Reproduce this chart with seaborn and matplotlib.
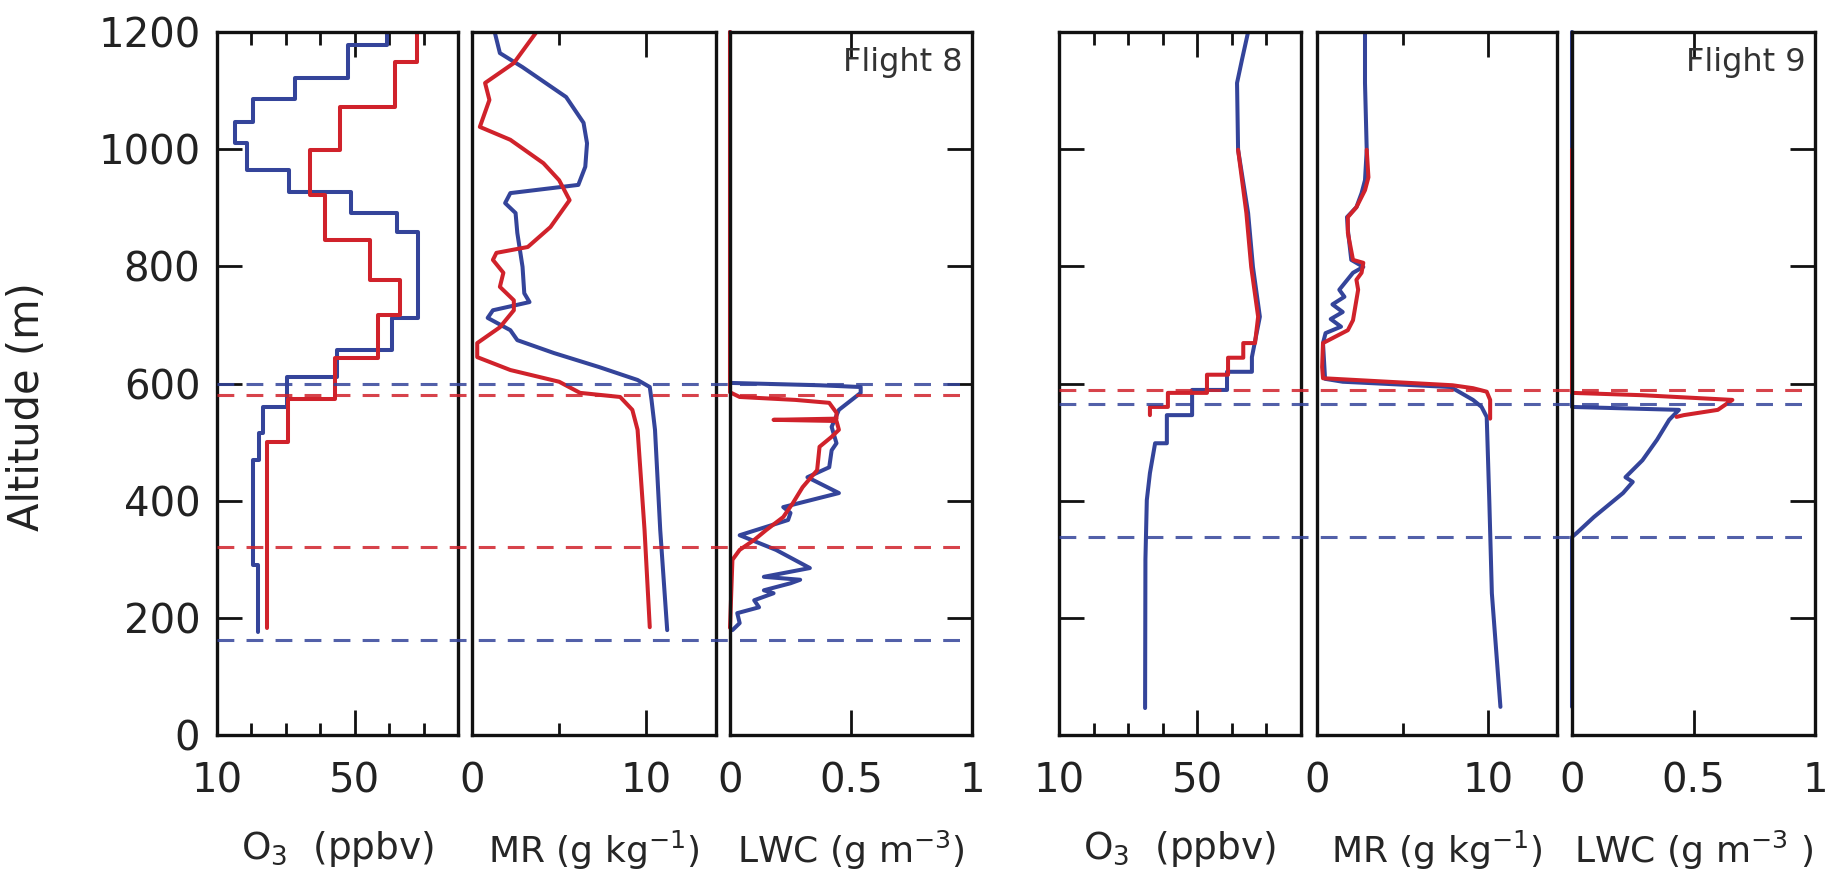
import numpy as np
import pandas as pd
import matplotlib.pyplot as plt
import seaborn as sns

BLUE = '#34449a'
RED = '#d0222b'

# ---------------- Flight 8 ----------------
# O3 (ppbv) step profiles: altitude bin edges (m) and values
f8_o3_blue_edges = [176, 290, 470, 515, 560, 611, 657, 712, 859, 891, 927, 964, 1010, 1046, 1085, 1121, 1178, 1200]
f8_o3_blue_vals = [21.8, 20.6, 22.3, 23.4, 30.3, 44.9, 60.8, 68.5, 62.3, 48.8, 30.9, 18.7, 15.2, 20.5, 32.7, 48.0, 59.4]
f8_o3_red_edges = [183, 500, 574, 644, 717, 777, 845, 922, 999, 1072, 1149, 1200]
f8_o3_red_vals = [24.5, 30.6, 44.3, 56.8, 63.2, 54.4, 41.4, 37.0, 45.7, 61.7, 68.1]

# MR (g/kg)
f8_mr_blue_alt = [179, 350, 521, 572, 594, 606, 628, 652, 674, 691, 712, 725, 739, 754, 799, 857, 891, 908, 925, 939, 970, 1010, 1045, 1089, 1140, 1164, 1200]
f8_mr_blue = [11.2, 10.8, 10.5, 10.3, 10.2, 9.5, 7.3, 4.7, 2.6, 2.2, 0.9, 1.2, 3.3, 3.0, 2.9, 2.6, 2.5, 1.9, 2.2, 6.1, 6.5, 6.6, 6.4, 5.4, 2.9, 1.6, 1.3]
f8_mr_red_alt = [184, 350, 521, 555, 577, 584, 603, 623, 645, 669, 696, 725, 742, 765, 789, 811, 823, 833, 867, 913, 947, 976, 1016, 1038, 1084, 1113, 1147, 1200]
f8_mr_red = [10.2, 9.9, 9.5, 9.2, 8.5, 6.2, 5.0, 2.2, 0.3, 0.3, 1.6, 2.4, 2.4, 1.6, 1.8, 1.2, 1.4, 3.2, 4.5, 5.6, 5.0, 4.1, 2.2, 0.45, 1.0, 0.75, 2.4, 3.7]

# LWC (g/m3)
f8_lwc_blue_alt = [179, 191, 208, 218, 230, 242, 247, 259, 265, 270, 285, 316, 341, 367, 379, 389, 413, 440, 457, 486, 498, 526, 555, 584, 594, 597, 601, 1200]
f8_lwc_blue = [0.01, 0.04, 0.03, 0.12, 0.10, 0.18, 0.14, 0.25, 0.29, 0.14, 0.33, 0.19, 0.04, 0.24, 0.25, 0.22, 0.45, 0.32, 0.41, 0.42, 0.44, 0.42, 0.45, 0.54, 0.54, 0.37, 0.0, 0.0]
f8_lwc_red_alt = [183, 299, 316, 333, 350, 372, 396, 423, 452, 492, 509, 521, 536, 538, 540, 550, 567, 572, 577, 585, 1200]
f8_lwc_red = [0.0, 0.01, 0.04, 0.10, 0.15, 0.22, 0.26, 0.30, 0.36, 0.37, 0.42, 0.45, 0.44, 0.18, 0.44, 0.44, 0.41, 0.27, 0.04, 0.0, 0.0]

f8_dash_blue = [600, 162]
f8_dash_red = [580, 321]

# ---------------- Flight 9 ----------------
f9_o3_blue_alt = [46, 300, 401, 447, 498, 498, 546, 546, 589, 589, 620, 620, 645, 714, 799, 891, 999, 1113, 1152, 1200]
f9_o3_blue = [34.9, 35.0, 35.4, 36.3, 37.8, 41.2, 41.2, 48.5, 48.5, 58.6, 58.6, 65.8, 65.8, 68.1, 66.1, 64.7, 61.8, 61.5, 62.9, 64.7]
f9_o3_red_alt = [546, 560, 560, 584, 584, 615, 615, 644, 644, 669, 669, 714, 799, 891, 999]
f9_o3_red = [36.3, 36.3, 41.5, 41.5, 52.8, 52.8, 58.9, 58.9, 63.3, 63.3, 66.7, 67.6, 65.6, 64.2, 61.8]

f9_mr_blue_alt = [48, 242, 401, 543, 560, 572, 594, 603, 608, 669, 686, 697, 710, 722, 735, 748, 760, 789, 799, 811, 862, 884, 901, 925, 947, 999, 1113, 1200]
f9_mr_blue = [10.7, 10.2, 10.05, 9.9, 9.6, 9.1, 7.8, 1.5, 0.47, 0.35, 0.5, 1.4, 0.8, 1.5, 0.9, 1.6, 1.3, 2.1, 2.7, 2.0, 1.8, 1.75, 2.3, 2.6, 2.8, 2.9, 2.8, 2.8]
f9_mr_red_alt = [540, 572, 586, 592, 597, 609, 628, 669, 691, 708, 760, 777, 789, 806, 811, 857, 884, 901, 930, 952, 999]
f9_mr_red = [10.1, 10.1, 9.9, 9.1, 7.9, 0.35, 0.3, 0.35, 1.8, 2.1, 2.4, 2.3, 2.6, 2.7, 2.1, 1.8, 1.8, 2.3, 2.8, 3.0, 2.9]

f9_lwc_blue_alt = [48, 338, 345, 372, 413, 432, 440, 469, 504, 538, 555, 560, 1200]
f9_lwc_blue = [0.0, 0.0, 0.02, 0.09, 0.21, 0.25, 0.22, 0.29, 0.35, 0.40, 0.44, 0.0, 0.0]
f9_lwc_red_alt = [543, 546, 555, 572, 580, 584, 1000]
f9_lwc_red = [0.43, 0.46, 0.60, 0.66, 0.29, 0.0, 0.0]

f9_dash_blue = [565, 338]
f9_dash_red = [589]


def steps(edges, vals):
    y = np.repeat(edges, 2)[1:-1]
    x = np.repeat(vals, 2)
    return pd.DataFrame({'val': x, 'alt': y})


def prof(alt, vals):
    return pd.DataFrame({'val': vals, 'alt': alt})


sns.set_theme(style='ticks')
plt.rcParams['font.family'] = ['DejaVu Sans']
plt.rcParams['mathtext.fontset'] = 'dejavusans'
plt.rcParams['text.color'] = '#222222'

W, H = 1839, 888
fig = plt.figure(figsize=(W / 100, H / 100), dpi=100)

y_bot, y_top = 735, 32
panels = {
    8: [(217, 458), (472, 716), (730, 972)],
    9: [(1059, 1301), (1317, 1557), (1572, 1815)],
}


def rect(x0, x1):
    return [x0 / W, 1 - y_bot / H, (x1 - x0) / W, (y_bot - y_top) / H]


def line(ax, df, color, clip=True):
    sns.lineplot(data=df, x='val', y='alt', sort=False, estimator=None,
                 color=color, lw=2.9, ax=ax, clip_on=clip)


def style(ax, kind, labels_y):
    ax.set_ylim(0, 1200)
    for s in ax.spines.values():
        s.set_linewidth(2.4)
        s.set_color('#111111')
    ax.tick_params(axis='both', which='both', direction='in', color='#111111',
                   labelsize=29, labelcolor='#222222', width=2)
    ax.tick_params(axis='both', which='major', length=18)
    ax.tick_params(axis='both', which='minor', length=9)
    ax.tick_params(axis='x', which='both', top=True, bottom=True, pad=19)
    ax.set_yticks([0, 200, 400, 600, 800, 1000, 1200])
    if kind == 'o3':
        ax.set_xlim(10, 80)
        ax.set_xticks([10, 50], ['10', '50'])
        ax.set_xticks([20, 30, 40, 60, 70], minor=True)
        ax.set_xlabel('O$_3$  (ppbv)', fontsize=27, labelpad=20)
        ax.tick_params(axis='y', left=True, right=False, labelleft=labels_y, pad=12)
    elif kind == 'mr':
        ax.set_xlim(0, 14)
        ax.set_xticks([0, 10], ['0', '10'])
        ax.set_xticks([5], minor=True)
        ax.set_xlabel('MR (g kg$^{-1}$)', fontsize=26, labelpad=20)
        ax.tick_params(axis='y', left=False, right=False, labelleft=False)
    else:
        ax.set_xlim(0, 1)
        ax.set_xticks([0, 0.5, 1], ['0', '0.5', '1'])
        ax.tick_params(axis='y', left=False, right=True, labelleft=False, labelright=False)
    ax.set_ylabel('')


data = {
    8: {
        'o3': (steps(f8_o3_blue_edges, f8_o3_blue_vals), steps(f8_o3_red_edges, f8_o3_red_vals)),
        'mr': (prof(f8_mr_blue_alt, f8_mr_blue), prof(f8_mr_red_alt, f8_mr_red)),
        'lwc': (prof(f8_lwc_blue_alt, f8_lwc_blue), prof(f8_lwc_red_alt, f8_lwc_red)),
        'dash': (f8_dash_blue, f8_dash_red),
        'lwc_label': 'LWC (g m$^{-3}$)',
    },
    9: {
        'o3': (prof(f9_o3_blue_alt, f9_o3_blue), prof(f9_o3_red_alt, f9_o3_red)),
        'mr': (prof(f9_mr_blue_alt, f9_mr_blue), prof(f9_mr_red_alt, f9_mr_red)),
        'lwc': (prof(f9_lwc_blue_alt, f9_lwc_blue), prof(f9_lwc_red_alt, f9_lwc_red)),
        'dash': (f9_dash_blue, f9_dash_red),
        'lwc_label': 'LWC (g m$^{-3}$ )',
    },
}

for flight in [8, 9]:
    d = data[flight]
    for (x0, x1), kind in zip(panels[flight], ['o3', 'mr', 'lwc']):
        ax = fig.add_axes(rect(x0, x1))
        blue_df, red_df = d[kind]
        clip = kind != 'lwc'
        line(ax, blue_df, BLUE, clip)
        line(ax, red_df, RED, clip)
        style(ax, kind, flight == 8)
        if kind == 'lwc':
            ax.set_xlabel(d['lwc_label'], fontsize=26, labelpad=20)
            ax.text(0.96, 0.945, f'Flight {flight}', transform=ax.transAxes,
                    ha='right', va='baseline', fontsize=23, color='#333333')
    # dashed reference levels drawn across the three panels of a flight
    x0 = panels[flight][0][0]
    x1 = panels[flight][2][1]
    ov = fig.add_axes(rect(x0, x1))
    ov.set_ylim(0, 1200)
    ov.set_xlim(0, 1)
    ov.axis('off')
    ov.patch.set_alpha(0)
    for yv in d['dash'][0]:
        ov.axhline(yv, xmin=0, xmax=0.985, color=BLUE, lw=2.2, dashes=(5.5, 4), alpha=0.85)
    for yv in d['dash'][1]:
        ov.axhline(yv, xmin=0, xmax=0.985, color=RED, lw=2.2, dashes=(5.5, 4), alpha=0.85)

fig.text(27 / W, 1 - 407 / H, 'Altitude (m)', rotation=90, ha='center', va='center',
         fontsize=30, color='#222222')

fig.savefig('out.png', dpi=100)
